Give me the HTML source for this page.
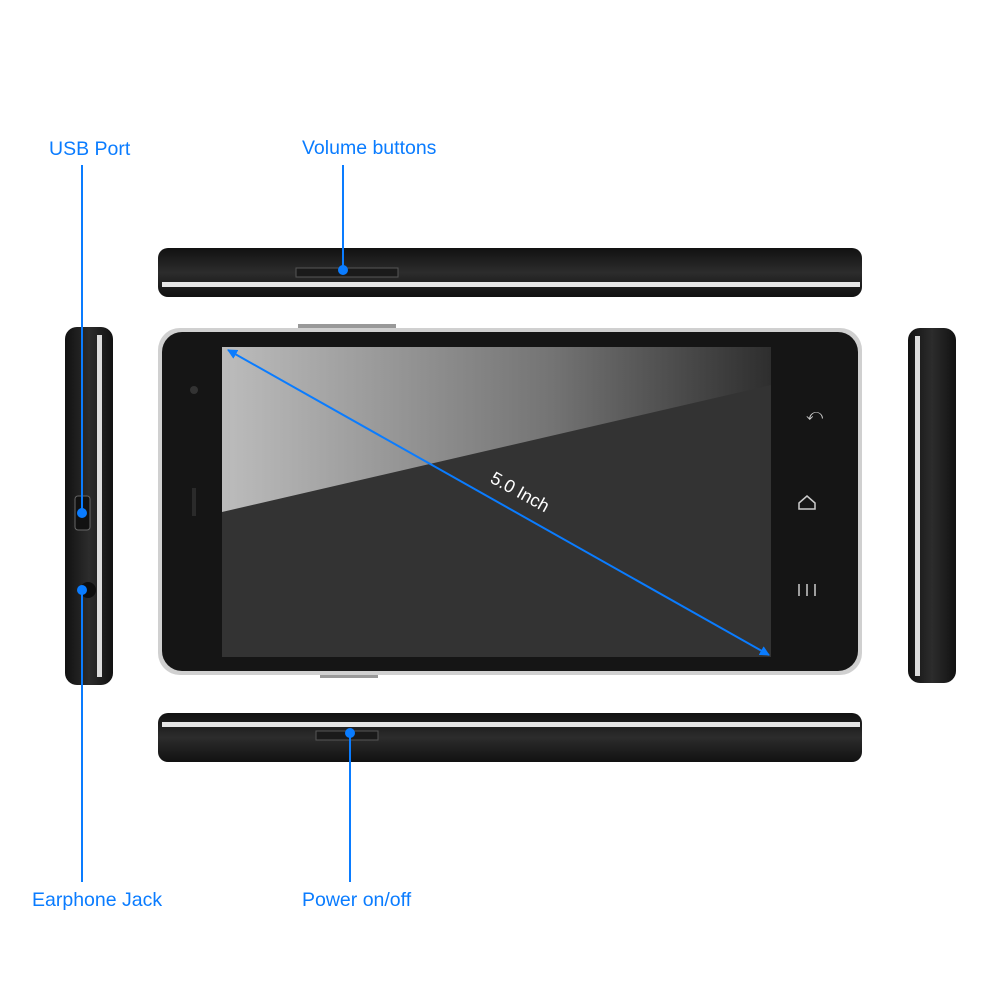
<!DOCTYPE html>
<html><head><style>body{margin:0;background:#fff}svg{display:block}</style></head><body>
<svg width="1000" height="1000" viewBox="0 0 1000 1000" xmlns="http://www.w3.org/2000/svg" font-family="Liberation Sans, sans-serif">
<defs>
<linearGradient id="scr" x1="0" y1="0" x2="1" y2="0"><stop offset="0" stop-color="#bcbcbc"/><stop offset="0.6" stop-color="#747474"/><stop offset="1" stop-color="#2e2e2e"/></linearGradient>
<linearGradient id="side" x1="0" y1="0" x2="0" y2="1"><stop offset="0" stop-color="#111"/><stop offset="0.5" stop-color="#2c2c2c"/><stop offset="1" stop-color="#111"/></linearGradient>
<linearGradient id="sideV" x1="0" y1="0" x2="1" y2="0"><stop offset="0" stop-color="#111"/><stop offset="0.5" stop-color="#2c2c2c"/><stop offset="1" stop-color="#111"/></linearGradient>
<marker id="ah" markerWidth="10" markerHeight="10" refX="9" refY="5" orient="auto" markerUnits="userSpaceOnUse"><path d="M0,0 L10,5 L0,10 z" fill="#0a7cff"/></marker>
<marker id="at" markerWidth="10" markerHeight="10" refX="1" refY="5" orient="auto" markerUnits="userSpaceOnUse"><path d="M10,0 L0,5 L10,10 z" fill="#0a7cff"/></marker>
</defs>
<rect x="158" y="248" width="704" height="49" rx="10" fill="url(#side)"/>
<rect x="162" y="282" width="698" height="5" fill="#e6e6e6"/>
<rect x="296" y="268" width="102" height="9" fill="#1a1a1a" stroke="#555"/>
<rect x="298" y="324" width="98" height="6" fill="#999"/>
<rect x="320" y="673" width="58" height="5" fill="#999"/>
<rect x="158" y="328" width="704" height="347" rx="22" fill="#d0d0d0"/>
<rect x="162" y="332" width="696" height="339" rx="20" fill="#151515"/>
<rect x="222" y="347" width="549" height="310" fill="#333"/>
<polygon points="222,347 771,347 771,385 222,512" fill="url(#scr)"/>
<circle cx="194" cy="390" r="4" fill="#333"/>
<rect x="192" y="488" width="4" height="28" fill="#2a2a2a"/>
<text x="806" y="420" fill="#ccc" font-size="16">⤺</text>
<path d="M799,503 l8,-7 l8,7 v6 h-16 z" fill="none" stroke="#ccc" stroke-width="1.5"/>
<path d="M801,582 h12 M801,590 h12 M801,598 h12" stroke="#ccc" stroke-width="1.5" transform="rotate(90 807 590)"/>
<rect x="65" y="327" width="48" height="358" rx="12" fill="url(#sideV)"/>
<rect x="97" y="335" width="5" height="342" fill="#ddd"/>
<rect x="75" y="496" width="15" height="34" rx="3" fill="#111" stroke="#666"/>
<circle cx="88" cy="590" r="8" fill="#0d0d0d"/>
<rect x="908" y="328" width="48" height="355" rx="12" fill="url(#sideV)"/>
<rect x="915" y="336" width="5" height="340" fill="#ddd"/>
<rect x="158" y="713" width="704" height="49" rx="10" fill="url(#side)"/>
<rect x="162" y="722" width="698" height="5" fill="#e6e6e6"/>
<rect x="316" y="731" width="62" height="9" fill="#1a1a1a" stroke="#555"/>
<g stroke="#0a7cff" stroke-width="2" fill="none">
<line x1="82" y1="165" x2="82" y2="513"/>
<line x1="82" y1="590" x2="82" y2="882"/>
<line x1="343" y1="165" x2="343" y2="270"/>
<line x1="350" y1="733" x2="350" y2="882"/>
<line x1="228" y1="350" x2="769" y2="655" marker-start="url(#at)" marker-end="url(#ah)"/>
</g>
<g fill="#0a7cff"><circle cx="82" cy="513" r="5"/><circle cx="82" cy="590" r="5"/><circle cx="343" cy="270" r="5"/><circle cx="350" cy="733" r="5"/></g>
<g fill="#0a7cff" font-size="19.5">
<text x="49" y="155">USB Port</text>
<text x="302" y="154">Volume buttons</text>
<text x="32" y="906">Earphone Jack</text>
<text x="302" y="906">Power on/off</text>
</g>
<text x="520" y="498" fill="#fff" font-size="18" text-anchor="middle" transform="rotate(29 520 492)">5.0 Inch</text>
</svg>
</body></html>
